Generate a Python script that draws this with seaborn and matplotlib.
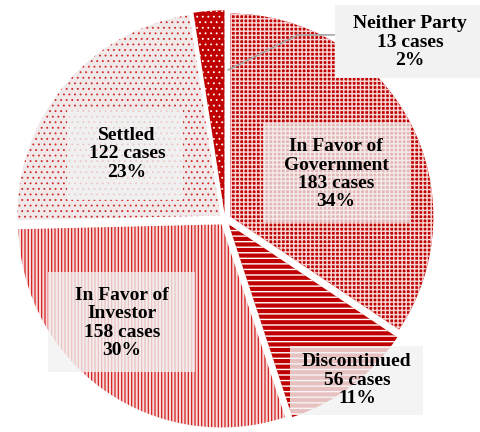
import matplotlib
matplotlib.use("Agg")
import matplotlib.pyplot as plt
from matplotlib.patches import Rectangle
import seaborn as sns

# outcomes of cases, clockwise from the top
outcomes = ["In Favor of\nGovernment", "Discontinued", "In Favor of\nInvestor", "Settled", "Neither Party"]
cases = [183, 56, 158, 122, 13]
percents = [34, 11, 30, 23, 2]

sns.set_theme(style="white")
plt.rcParams["font.family"] = ["Liberation Serif", "DejaVu Serif"]

red = "#C00000"
faces = [red, red, "#F7DADA", "#F1E9E9", red]
hatch_colors = ["#F6D4D4", "white", "#D42020", "#D02828", "white"]
hatches = ["++++", "---", "|||||", "...", "..."]
hatch_lw = [1.05, 1.0, 0.9, 0.6, 0.6]

fig = plt.figure(figsize=(4.81, 4.32), dpi=100)
ax = fig.add_axes([0, 0, 1, 1])

wedges, _ = ax.pie(
    cases,
    startangle=90,
    counterclock=False,
    explode=[0.03] * len(cases),
    radius=1.0,
)
for w, fc, hc, h, lw in zip(wedges, faces, hatch_colors, hatches, hatch_lw):
    w.set_facecolor(fc)
    w.set_edgecolor(hc)
    w.set_hatch(h)
    w.set_hatch_linewidth(lw)
    w.set_linewidth(0)

# label boxes (x0, x1, y0, y1) and text centres, data coords with pie radius = 1
boxes = [(0.187, 0.911, -0.012, 0.475),
         (0.320, 0.975, -0.963, -0.623),
         (-0.872, -0.148, -0.751, -0.259),
         (-0.778, -0.207, 0.096, 0.539),
         (0.542, 1.256, 0.697, 1.057)]
label_xy = [(0.547, 0.222), (0.650, -0.791), (-0.507, -0.510), (-0.483, 0.323), (0.911, 0.874)]
box_alpha = [0.75, 0.8, 0.78, 0.8, 1.0]

# leader line to the small slice
ax.plot([0.015, 0.36, 0.54], [0.736, 0.909, 0.909], color="#A6A6A6", lw=1.2, zorder=3)

for name, n, p, (x0, x1, y0, y1), (x, y), a in zip(outcomes, cases, percents, boxes, label_xy, box_alpha):
    ax.add_patch(Rectangle((x0, y0), x1 - x0, y1 - y0, facecolor="#F2F2F2",
                           edgecolor="none", alpha=a, zorder=4))
    ax.text(
        x, y, f"{name}\n{n} cases\n{p}%",
        ha="center", va="center", fontsize=14, fontweight="bold",
        color="black", linespacing=1.1, zorder=5,
    )

ax.set_xlim(-1.108, 1.261)
ax.set_ylim(-1.047, 1.081)
ax.set_aspect("equal")
ax.axis("off")

fig.savefig("out.png", dpi=100)
